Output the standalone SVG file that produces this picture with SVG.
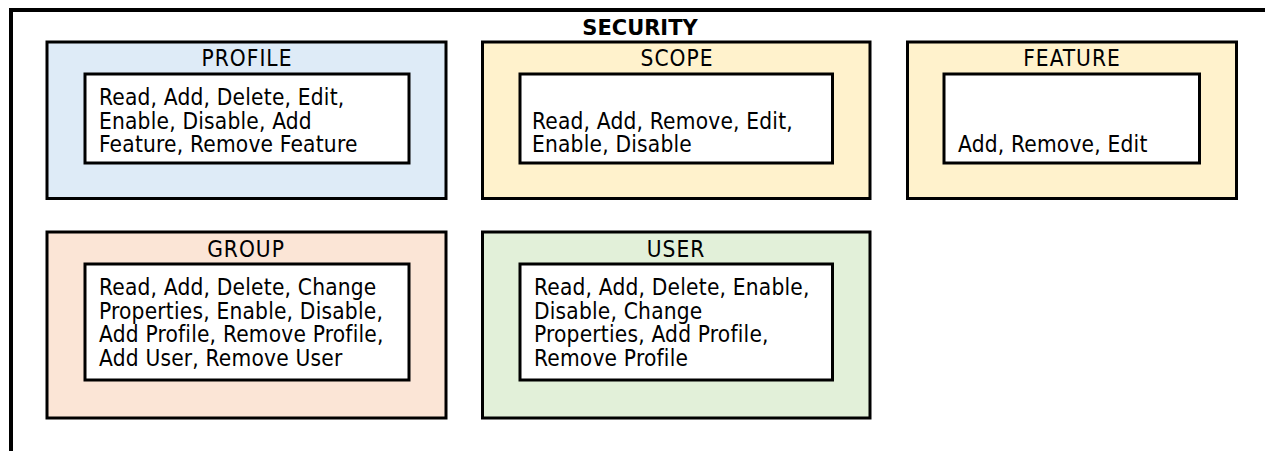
<svg xmlns="http://www.w3.org/2000/svg" width="1265" height="451" viewBox="0 0 1265 451">
  <style>
    .frame { fill: none; stroke: #000; stroke-width: 4; }
    .outer { stroke: #000; stroke-width: 3; }
    .inner { fill: #fff; stroke: #000; stroke-width: 3; }
    .title { font-family: "DejaVu Sans", Verdana, sans-serif; font-size: 21px; font-weight: bold; fill: #000; text-anchor: middle; }
    .label { font-family: "DejaVu Sans Condensed", "DejaVu Sans", sans-serif; font-size: 22.5px; letter-spacing: 1px; fill: #000; text-anchor: middle; }
    .body { font-family: "DejaVu Sans Condensed", "DejaVu Sans", sans-serif; font-size: 22.5px; letter-spacing: 0.2px; fill: #000; }
    .blue { fill: #DEEBF7; }
    .yellow { fill: #FFF2CC; }
    .peach { fill: #FBE5D6; }
    .green { fill: #E2F0D9; }
  </style>

  <rect x="0" y="0" width="1265" height="451" fill="#fff"/>

  <!-- enclosing security frame (open to the right and bottom) -->
  <path class="frame" d="M11,451 V10 H1265"/>
  <text class="title" x="640" y="35">SECURITY</text>

  <g id="profile">
    <rect class="outer blue" x="47" y="42" width="399" height="156.5"/>
    <text class="label" x="247" y="66">PROFILE</text>
    <rect class="inner" x="85" y="74" width="324" height="89"/>
    <text class="body" x="99" y="105">Read, Add, Delete, Edit,</text>
    <text class="body" x="99" y="128.5">Enable, Disable, Add</text>
    <text class="body" x="99" y="152">Feature, Remove Feature</text>
  </g>

  <g id="scope">
    <rect class="outer yellow" x="482.5" y="42" width="387.5" height="156.5"/>
    <text class="label" x="677" y="66">SCOPE</text>
    <rect class="inner" x="520" y="74" width="312.5" height="89"/>
    <text class="body" x="532" y="128.5">Read, Add, Remove, Edit,</text>
    <text class="body" x="532" y="152">Enable, Disable</text>
  </g>

  <g id="feature">
    <rect class="outer yellow" x="907.5" y="42" width="329" height="156.5"/>
    <text class="label" x="1072" y="66">FEATURE</text>
    <rect class="inner" x="944" y="74" width="255.5" height="89"/>
    <text class="body" x="958" y="152">Add, Remove, Edit</text>
  </g>

  <g id="group">
    <rect class="outer peach" x="47" y="232" width="399" height="186"/>
    <text class="label" x="246" y="257">GROUP</text>
    <rect class="inner" x="85" y="264" width="324" height="116"/>
    <text class="body" x="99" y="295">Read, Add, Delete, Change</text>
    <text class="body" x="99" y="318.5">Properties, Enable, Disable,</text>
    <text class="body" x="99" y="342">Add Profile, Remove Profile,</text>
    <text class="body" x="99" y="365.5">Add User, Remove User</text>
  </g>

  <g id="user">
    <rect class="outer green" x="482.5" y="232" width="387.5" height="186"/>
    <text class="label" x="676" y="257">USER</text>
    <rect class="inner" x="520" y="264" width="312.5" height="116"/>
    <text class="body" x="534" y="295">Read, Add, Delete, Enable,</text>
    <text class="body" x="534" y="318.5">Disable, Change</text>
    <text class="body" x="534" y="342">Properties, Add Profile,</text>
    <text class="body" x="534" y="365.5">Remove Profile</text>
  </g>

  <g id="connectors"></g>
</svg>
